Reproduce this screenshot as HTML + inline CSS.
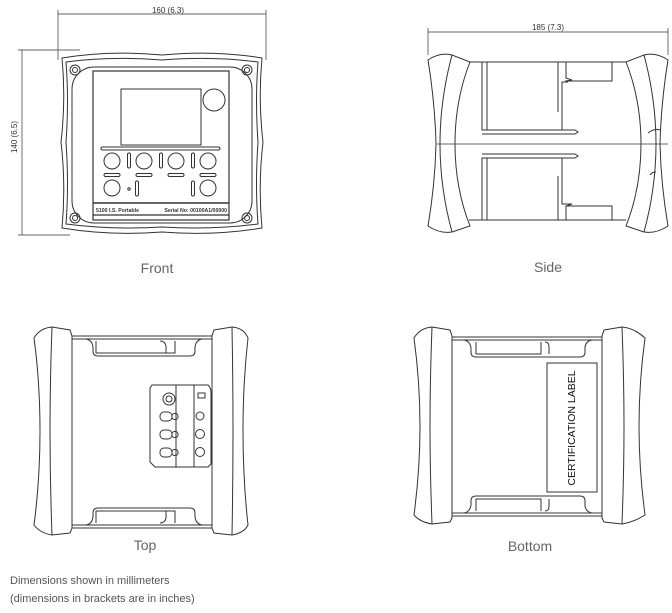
<!DOCTYPE html>
<html><head><meta charset="utf-8"><style>
html,body{margin:0;padding:0;background:#fff;}
svg{display:block;}
text{font-family:"Liberation Sans",sans-serif;}
</style></head><body>
<svg width="672" height="613" viewBox="0 0 672 613" xmlns="http://www.w3.org/2000/svg">
<g fill="none" stroke="#333" stroke-width="1">
<!-- FRONT -->
<line x1="58" y1="14" x2="266" y2="14" stroke-width="0.7"/>
<line x1="58" y1="10" x2="58" y2="60" stroke-width="0.7"/>
<line x1="266" y1="10" x2="266" y2="60" stroke-width="0.7"/>
<line x1="22" y1="50" x2="22" y2="235" stroke-width="0.7"/>
<line x1="18" y1="50" x2="80" y2="50" stroke-width="0.7"/>
<line x1="18" y1="235" x2="70" y2="235" stroke-width="0.7"/>
<path d="M62 58 Q110 50 162 55 Q214 50 262 58 Q258 100 263 142 Q258 185 262 228 Q214 236 162 232 Q110 236 62 228 Q66 185 61 142 Q66 100 62 58 Z"/>
<path d="M66 62 Q112 56 162 60 Q212 56 258 62 Q255 100 258 142 Q255 185 258 224 Q212 230 162 227 Q112 230 66 224 Q69 185 66 142 Q69 100 66 62 Z"/>
<rect x="72" y="67" width="180" height="156" rx="22"/>
<circle cx="75" cy="70" r="5"/><circle cx="75" cy="70" r="2.5"/>
<circle cx="247" cy="70" r="5"/><circle cx="247" cy="70" r="2.5"/>
<circle cx="75" cy="218" r="5"/><circle cx="75" cy="218" r="2.5"/>
<circle cx="247" cy="218" r="5"/><circle cx="247" cy="218" r="2.5"/>
<rect x="93" y="71" width="136" height="149" fill="#fff" stroke-width="1.2"/>
<rect x="121" y="89" width="80" height="56"/>
<circle cx="214" cy="100" r="11"/>
<rect x="101" y="147" width="119" height="3" rx="1.5"/>
<circle cx="112" cy="161" r="8"/><circle cx="144" cy="161" r="8"/><circle cx="176" cy="161" r="8"/><circle cx="208" cy="161" r="8"/>
<rect x="127.5" y="153" width="3" height="15" rx="1.5"/><rect x="159.5" y="153" width="3" height="15" rx="1.5"/><rect x="191.5" y="153" width="3" height="15" rx="1.5"/>
<rect x="104" y="173.5" width="16" height="3" rx="1.5"/><rect x="136" y="173.5" width="16" height="3" rx="1.5"/><rect x="168" y="173.5" width="16" height="3" rx="1.5"/><rect x="200" y="173.5" width="16" height="3" rx="1.5"/>
<circle cx="112" cy="188" r="8"/><circle cx="208" cy="188" r="8"/>
<circle cx="129" cy="189" r="1.2"/>
<rect x="135.5" y="181" width="3" height="15" rx="1.5"/><rect x="191.5" y="181" width="3" height="15" rx="1.5"/>
<line x1="93" y1="203" x2="229" y2="203" stroke-width="1.6"/>
<line x1="93" y1="215" x2="229" y2="215" stroke-width="1.2"/>
<!-- SIDE -->
<line x1="428" y1="32" x2="668" y2="32" stroke-width="0.7"/>
<line x1="428" y1="28" x2="428" y2="55" stroke-width="0.7"/>
<line x1="668" y1="28" x2="668" y2="55" stroke-width="0.7"/>
<path d="M428 60 Q440 52 452 55 L470 62 Q455 100 455 144 Q455 188 470 226 L452 232 Q440 234 428 226 Q435 185 436 144 Q435 103 428 60 Z"/>
<path d="M452 55 Q440 100 440 144 Q440 188 452 232"/>
<path d="M626 62 L644 55 Q656 52 668 60 Q661 103 660 144 Q661 185 668 226 Q656 234 644 232 L626 226 Q641 188 641 144 Q641 100 626 62 Z"/>
<path d="M644 55 Q656 100 656 144 Q656 188 644 232"/>
<path d="M648 133 Q655 128 660 130 M650 175 Q652 172 656 172"/>
<line x1="469" y1="62" x2="626" y2="62"/>
<line x1="469" y1="220" x2="626" y2="220"/>
<line x1="437" y1="144" x2="668" y2="144" stroke-width="0.8"/>
<path d="M482 62 L482 130 L575 130 L578 132 L575 134 L482 134"/>
<path d="M487 62 L487 130 M558 62 L558 112"/>
<path d="M566 62 L566 78 L572 80 L566 81 L568 82 L562 82 L562 130 M566 81 L612 81 L612 62"/>
<path d="M482 220 L482 158 L575 158 L578 156 L575 154 L482 154"/>
<path d="M487 220 L487 158 M558 220 L558 176"/>
<path d="M566 220 L566 206 L572 204 L566 204 L562 204 L562 158 M566 206 L612 206 L612 220"/>
<!-- TOP -->
<path d="M34 338 Q40 328 52 327 L70 330 L72 336 L72 528 L70 533 L52 535 Q40 533 34 525 Q40 480 40 431 Q40 382 34 338 Z"/>
<path d="M52 327 Q50 380 50 431 Q50 482 52 535"/>
<path d="M214 330 L232 327 Q244 328 248 338 Q243 382 243 431 Q243 480 248 525 Q244 533 232 535 L214 533 L212 528 L212 336 Z"/>
<path d="M232 327 Q233 380 233 431 Q233 482 232 535"/>
<line x1="72" y1="336" x2="212" y2="336"/><line x1="72" y1="339" x2="212" y2="339"/>
<line x1="72" y1="528" x2="212" y2="528"/><line x1="72" y1="525" x2="212" y2="525"/>
<path d="M86 339 Q92 340 93 347 L93 351 Q93 356 98 356 L190 356 Q195 356 195 351 L195 347 Q196 340 202 339"/>
<path d="M96 341 L96 353 L175 353 L175 341 M160 341 Q165 341 166 346 L166 353"/>
<path d="M86 525 Q92 524 93 517 L93 513 Q93 508 98 508 L190 508 Q195 508 195 513 L195 517 Q196 524 202 525"/>
<path d="M96 523 L96 511 L175 511 L175 523 M160 523 Q165 523 166 518 L166 511"/>
<path d="M150 388 L152 385 L208 385 Q211 388 211 392 L211 464 L208 467 L155 467 L150 462 Z"/>
<line x1="176" y1="385" x2="176" y2="467"/><line x1="194" y1="385" x2="194" y2="467"/>
<circle cx="169" cy="399" r="6"/><circle cx="169" cy="399" r="3"/>
<rect x="160" y="412" width="12" height="9" rx="4"/><rect x="172" y="413.5" width="6" height="6" rx="2.5"/>
<rect x="160" y="430" width="12" height="9" rx="4"/><rect x="172" y="431.5" width="6" height="6" rx="2.5"/>
<rect x="160" y="448" width="12" height="9" rx="4"/><rect x="172" y="449.5" width="6" height="6" rx="2.5"/>
<rect x="198" y="393" width="7" height="5"/>
<circle cx="200" cy="416" r="4"/><circle cx="200" cy="434" r="4.5"/><circle cx="200" cy="452" r="4.5"/>
<!-- BOTTOM -->
<path d="M414 338 Q420 328 432 327 L450 330 L452 336 L452 518 L450 522 L432 524 Q420 522 414 515 Q420 470 420 426 Q420 382 414 338 Z"/>
<path d="M432 327 Q430 380 430 426 Q430 472 432 524"/>
<path d="M604 330 L622 327 Q634 328 645 338 Q639 382 639 426 Q639 470 645 515 Q634 522 622 524 L604 522 L602 518 L602 336 Z"/>
<path d="M622 327 Q624 380 624 426 Q624 472 622 524"/>
<line x1="452" y1="337" x2="602" y2="337"/><line x1="452" y1="340" x2="602" y2="340"/>
<line x1="452" y1="516" x2="602" y2="516"/><line x1="452" y1="513" x2="602" y2="513"/>
<path d="M464 340 Q470 341 471 348 L471 352 Q471 357 476 357 L580 357 Q585 357 585 352 L585 347 Q586 341 592 340"/>
<path d="M476 342 L476 354 L541 354 L541 342 M545 342 Q549 342 549 347 L549 354"/>
<path d="M464 513 Q470 512 471 505 L471 501 Q471 496 476 496 L580 496 Q585 496 585 501 L585 506 Q586 512 592 513"/>
<path d="M476 511 L476 499 L541 499 L541 511 M545 511 Q549 511 549 506 L549 499"/>
<rect x="547" y="363" width="50" height="129"/>
</g>
<g fill="#333">
<text x="168" y="13" font-size="8" text-anchor="middle">160 (6.3)</text>
<text transform="translate(17,137) rotate(-90)" font-size="8" text-anchor="middle">140 (6.5)</text>
<text x="96" y="212" font-size="5.2" font-weight="bold">5100 I.S. Portable</text>
<text x="227" y="212" font-size="5.2" font-weight="bold" text-anchor="end">Serial No: 00100A1/00000</text>
<text x="548" y="30" font-size="8" text-anchor="middle">185 (7.3)</text>
<text transform="translate(575,428) rotate(-90)" font-size="10.5" text-anchor="middle" fill="#111">CERTIFICATION  LABEL</text>
</g>
<g fill="#666" font-size="14">
<text x="157" y="273" text-anchor="middle">Front</text>
<text x="548" y="272" text-anchor="middle">Side</text>
<text x="145" y="550" text-anchor="middle">Top</text>
<text x="530" y="551" text-anchor="middle">Bottom</text>
</g>
<g fill="#555" font-size="11">
<text x="10" y="584">Dimensions shown in millimeters</text>
<text x="10" y="602">(dimensions in brackets are in inches)</text>
</g>
</svg>
</body></html>
